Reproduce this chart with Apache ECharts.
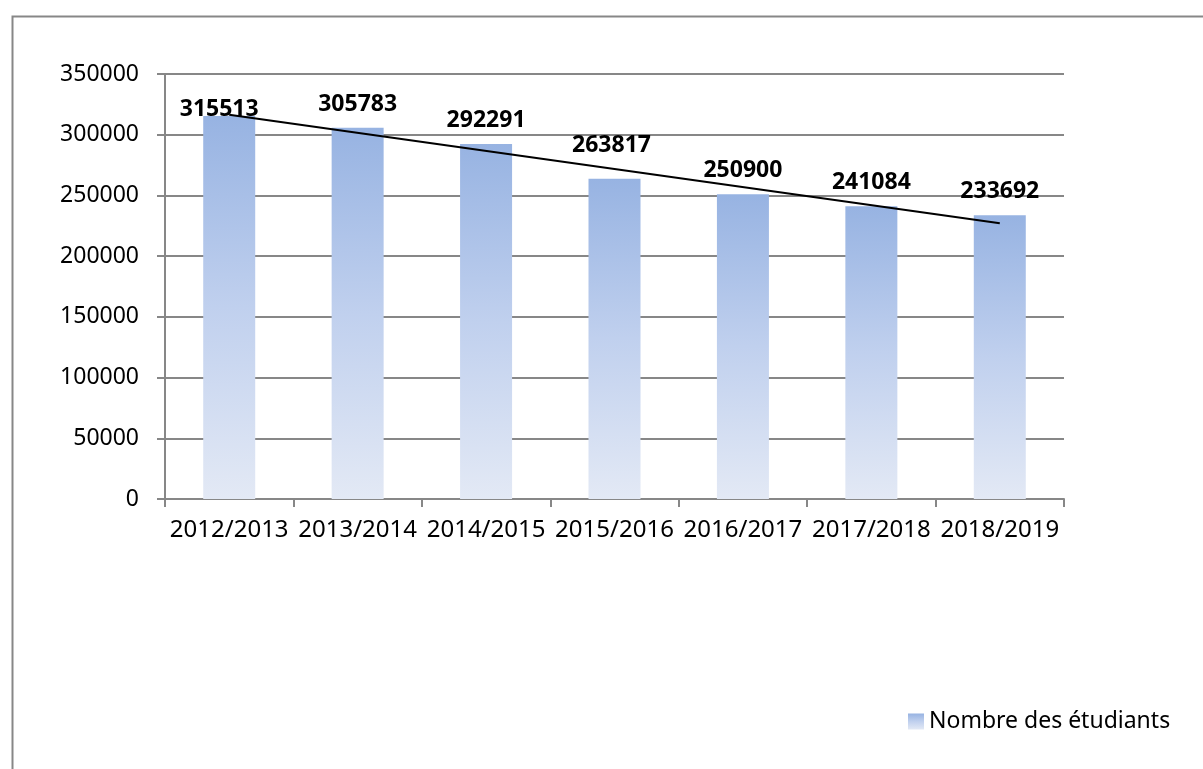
<!DOCTYPE html>
<html>
<head>
<meta charset="utf-8">
<script src="https://cdn.jsdelivr.net/npm/echarts@6/dist/echarts.min.js"></script>
<style>
  html, body { margin: 0; padding: 0; background: #fff; }
  #chart { width: 1203px; height: 769px; }
</style>
</head>
<body>
<div id="chart"></div>
<script>
var annees = ['2012/2013', '2013/2014', '2014/2015', '2015/2016', '2016/2017', '2017/2018', '2018/2019'];
var etudiants = [315513, 305783, 292291, 263817, 250900, 241084, 233692];
// tendance lineaire (debut / fin)
var tendance = [316500, null, null, null, null, null, 227000];

var police = '"Noto Sans", "Open Sans", sans-serif';
var gris = '#878787';

var degrade = new echarts.graphic.LinearGradient(0, 0, 0, 1, [
    { offset: 0, color: '#97b3e2' },
    { offset: 0.5, color: '#c0d0ee' },
    { offset: 1, color: '#e3e9f5' }
]);

// decalages des etiquettes comme sur l'original
var decalages = { 0: [-10, 17], 3: [-3, -10] };
var barres = etudiants.map(function (v, i) {
    var d = { value: v };
    if (decalages[i]) {
        d.label = { offset: decalages[i] };
    }
    return d;
});

var chart = echarts.init(document.getElementById('chart'));
chart.setOption({
    animation: false,
    backgroundColor: '#fff',
    textStyle: { fontFamily: police },
    graphic: [{
        type: 'rect',
        left: 10, top: 14,
        shape: { width: 1400, height: 1000 },
        style: { fill: 'none', stroke: gris, lineWidth: 2 },
        silent: true
    }],
    grid: { left: 165, right: 139, top: 74, bottom: 270 },
    legend: {
        left: 903, top: 705,
        itemWidth: 16, itemHeight: 16, itemGap: 10,
        icon: 'rect',
        textStyle: { fontSize: 23, color: '#000', fontFamily: police },
        data: ['Nombre des étudiants']
    },
    xAxis: {
        type: 'category',
        data: annees,
        axisLine: { lineStyle: { color: gris, width: 2 } },
        axisTick: { show: true, length: 8, lineStyle: { color: gris, width: 2 } },
        axisLabel: { color: '#000', fontSize: 24, margin: 19, interval: 0, fontFamily: police }
    },
    yAxis: {
        type: 'value',
        min: 0, max: 350000, interval: 50000,
        axisLine: { show: true, lineStyle: { color: gris, width: 2 } },
        axisTick: { show: true, length: 8, lineStyle: { color: gris, width: 2 } },
        axisLabel: {
            color: '#000', fontSize: 23, margin: 26, fontFamily: police,
            formatter: function (v) { return String(v); }
        },
        splitLine: { lineStyle: { color: gris, width: 2 } }
    },
    series: [{
        name: 'Nombre des étudiants',
        type: 'bar',
        data: barres,
        barWidth: 52,
        itemStyle: { color: degrade },
        label: {
            show: true, position: 'top', distance: 12,
            color: '#000', fontWeight: 'bold', fontSize: 23, fontFamily: police
        }
    }, {
        name: 'tendance',
        type: 'line',
        data: tendance,
        connectNulls: true,
        symbol: 'none',
        lineStyle: { color: '#000', width: 2 },
        z: 5
    }]
});
</script>
</body>
</html>
